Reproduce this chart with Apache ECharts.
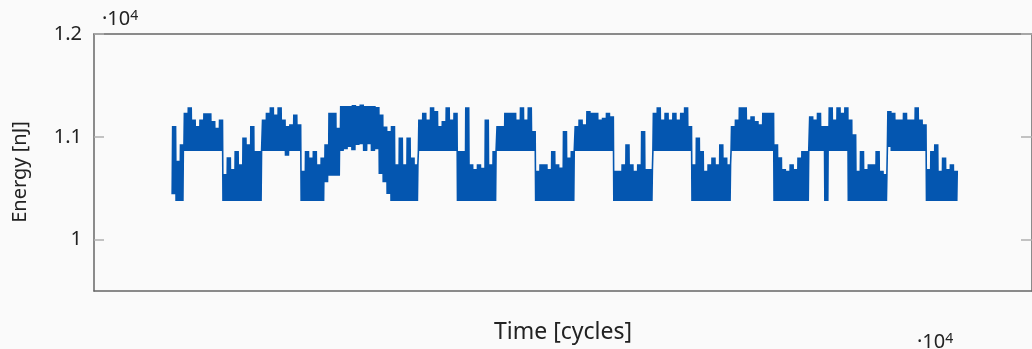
<!DOCTYPE html>
<html>
<head>
<meta charset="utf-8">
<script src="https://cdn.jsdelivr.net/npm/echarts@6/dist/echarts.min.js"></script>
<style>
html,body{margin:0;padding:0;background:#fafafa;}
#chart{width:1032px;height:349px;}
</style>
</head>
<body>
<div id="chart"></div>
<script>
// Time axis: first sample and spacing (cycles)
const startCycle = 1000;
const stepCycles = 50;
// Upper envelope of the energy trace (nJ), one value per sample
const upper = [
11105,10766,10928,11234,11288,11169,11105,11169,11230,11230,
11153,11089,11169,10638,10800,10686,10863,10734,10992,10928,
11105,10863,10863,11169,11234,11288,11217,11288,11169,11105,
11121,11217,11121,10670,10863,10799,10863,10734,10799,10928,
11234,11234,11089,11300,11300,11300,11310,11300,11314,11300,
11300,11300,11290,11217,11100,11056,11105,10734,10992,10734,
10992,10799,10734,11169,11234,11169,11288,11250,11105,11153,
11288,11169,11234,10863,10863,11288,10734,10686,10734,10700,
11169,10734,10863,11105,11105,11234,11234,11234,11169,11288,
11169,11288,11056,10670,10734,10734,10686,10863,10734,10702,
11056,10799,10863,11105,11169,11121,11250,11234,11234,11169,
11185,11234,11200,10670,10670,10734,10928,10734,10670,10734,
11056,10686,10686,11234,11288,11169,11234,11169,11234,11169,
11234,11288,11105,10734,10992,10863,10670,10734,10799,10734,
10928,10799,10734,11105,11169,11288,11288,11169,11201,11153,
11121,11234,11234,11234,10928,10800,10686,10670,10734,10686,
10799,10863,10863,11200,11169,11234,11105,11105,11288,11169,
11288,11234,11288,11169,11024,10670,10863,10686,10734,10734,
10863,10670,10638,11250,11234,11169,11169,11234,11169,11169,
11288,11169,11121,10686,10863,10928,10670,10799,10686,10734,
10670
];
// Lower envelope of the energy trace (nJ), one value per sample
const lower = [
10440,10375,10375,10863,10863,10863,10863,10863,10863,10863,
10863,10863,10863,10375,10375,10375,10375,10375,10375,10375,
10375,10375,10375,10863,10863,10863,10863,10863,10863,10815,
10863,10863,10863,10375,10375,10375,10375,10375,10375,10557,
10622,10622,10622,10863,10880,10900,10870,10920,10928,10863,
10928,10863,10880,10638,10557,10444,10375,10375,10375,10375,
10375,10375,10375,10863,10863,10863,10863,10863,10863,10863,
10863,10863,10863,10375,10375,10375,10375,10375,10375,10375,
10375,10375,10375,10863,10863,10863,10863,10863,10863,10863,
10863,10863,10863,10375,10375,10375,10375,10375,10375,10375,
10375,10375,10375,10863,10863,10863,10863,10863,10863,10863,
10863,10863,10863,10375,10375,10375,10375,10375,10375,10375,
10375,10375,10375,10863,10863,10863,10863,10863,10863,10863,
10863,10863,10863,10375,10375,10375,10375,10375,10375,10375,
10375,10375,10375,10863,10863,10863,10863,10863,10863,10863,
10863,10863,10863,10863,10375,10375,10375,10375,10375,10375,
10375,10375,10375,10863,10863,10863,10863,10375,10863,10863,
10863,10863,10863,10375,10375,10375,10375,10375,10375,10375,
10375,10375,10375,10900,10863,10863,10863,10863,10863,10863,
10863,10863,10863,10375,10375,10375,10375,10375,10375,10375,
10375
];
// Y tick values (nJ)
const yTicks = [10000, 11000, 12000];
const xTitle = 'Time [cycles]';
const yTitle = 'Energy [nJ]';

// The trace oscillates rapidly between its envelopes
const trace = [];
const sub = 8;
for (let k = 0; k < upper.length; k++) {
  const t = startCycle + k * stepCycles;
  const q = stepCycles / sub;
  for (let j = 0; j < sub; j++) {
    trace.push([t + j * q, j % 2 === 0 ? lower[k] : upper[k]]);
  }
}

const FONT = 'Noto Sans';
const axisLineStyle = { color: '#666', width: 1.5 };
const supText = (x, y) => ({
  type: 'text', x: x, y: y,
  style: { text: '{a|·10}{b|4}', fill: '#222',
    rich: { a: { fontSize: 20, fontFamily: FONT, fill: '#222', verticalAlign: 'bottom' },
            b: { fontSize: 14, fontFamily: FONT, fill: '#222', verticalAlign: 'top' } } }
});
const chart = echarts.init(document.getElementById('chart'), null, { renderer: 'canvas' });
chart.setOption({
  animation: false,
  backgroundColor: '#fafafa',
  textStyle: { fontFamily: FONT },
  grid: { left: 94, top: 34, right: -1, bottom: 56, containLabel: false },
  xAxis: [
    { type: 'value', min: 0, max: 12000, position: 'bottom',
      axisLine: { show: true, onZero: false, lineStyle: axisLineStyle },
      axisTick: { show: false }, axisLabel: { show: false }, splitLine: { show: false },
      name: xTitle, nameLocation: 'middle', nameGap: 30,
      nameTextStyle: { fontSize: 23, color: '#222', fontFamily: FONT } },
    { type: 'value', min: 0, max: 12000, position: 'top',
      axisLine: { show: true, onZero: false, lineStyle: axisLineStyle },
      axisTick: { show: false }, axisLabel: { show: false }, splitLine: { show: false } }
  ],
  yAxis: [
    { type: 'value', min: 9500, max: 12000, position: 'left',
      axisLine: { show: true, onZero: false, lineStyle: axisLineStyle },
      axisTick: { show: true, inside: true, length: 10, customValues: yTicks, lineStyle: { color: '#b0b0b0', width: 1.5 } },
      axisLabel: { show: true, customValues: yTicks, margin: 12, fontSize: 20, color: '#222', fontFamily: FONT,
        formatter: v => String(+(v / 10000).toFixed(1)) },
      splitLine: { show: false } },
    { type: 'value', min: 9500, max: 12000, position: 'right',
      axisLine: { show: true, onZero: false, lineStyle: axisLineStyle },
      axisTick: { show: true, inside: true, length: 11, customValues: yTicks, lineStyle: { color: '#b0b0b0', width: 1.5 } },
      axisLabel: { show: false }, splitLine: { show: false } }
  ],
  graphic: [
    { type: 'text', x: 20, y: 172, rotation: Math.PI / 2,
      style: { text: yTitle, fontSize: 20, fill: '#222', fontFamily: FONT, align: 'center', verticalAlign: 'middle' } },
    supText(102, 9),
    supText(917, 332)
  ],
  series: [{
    type: 'line', data: trace, xAxisIndex: 0, yAxisIndex: 0,
    showSymbol: false, symbol: 'none', sampling: null, silent: true,
    lineStyle: { color: '#0456b0', width: 1.6 }
  }]
});
</script>
</body>
</html>
